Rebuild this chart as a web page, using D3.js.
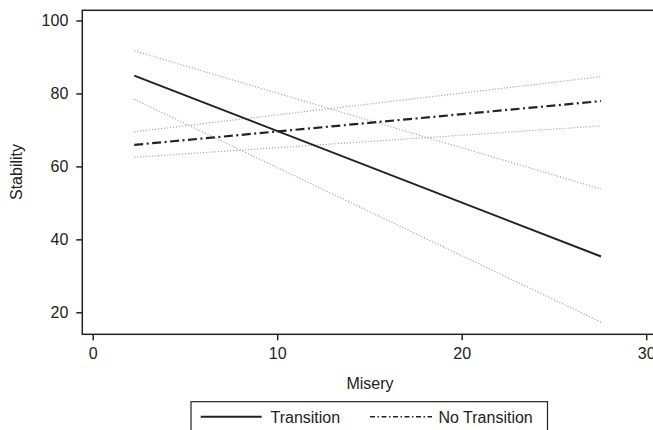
<!DOCTYPE html>
<html>
<head>
<meta charset="utf-8">
<script src="https://cdn.jsdelivr.net/npm/d3@7"></script>
<style>
body { margin: 0; background: #fff; }
svg text { font-family: "Liberation Sans", Arial, sans-serif; fill: #222; }
</style>
</head>
<body>
<div id="chart"></div>
<script>
// misery range covered by the fitted lines
var misery = [2.25, 27.55];
// predicted stability, transition countries (with CI)
var transition = [84.9, 35.3];
var transitionUpper = [91.7, 53.8];
var transitionLower = [78.4, 17.3];
// predicted stability, no transition (with CI)
var noTransition = [65.9, 77.9];
var noTransitionUpper = [69.5, 84.6];
var noTransitionLower = [62.5, 71.1];

var xTicks = [0, 10, 20, 30];
var yTicks = [20, 40, 60, 80, 100];

var W = 653, H = 430;
var FRAME = {left: 82.3, top: 10.3, right: 662, bottom: 334.3};

var svg = d3.select("#chart").append("svg")
.attr("width", W)
.attr("height", H)

var x = d3.scaleLinear().domain([0, 30]).range([92.7, 646.2]);
var y = d3.scaleLinear().domain([20, 100]).range([312.3, 20.5]);

// frame
svg.append("rect")
.attr("x", FRAME.left)
.attr("y", FRAME.top)
.attr("width", FRAME.right - FRAME.left)
.attr("height", FRAME.bottom - FRAME.top)
.style("fill", "none")
.style("stroke", "#222")
.style("stroke-width", 1.5)

// axes
var yAxis = d3.axisLeft(y).tickValues(yTicks).tickSize(6).tickPadding(8);
svg.append("g")
.attr("transform", "translate(" + FRAME.left + ",0)")
.call(yAxis)
.call(g => g.select(".domain").remove())
.call(g => g.selectAll("line").style("stroke", "#222").style("stroke-width", 1.5))
.call(g => g.selectAll("text").style("font-size", "16px").style("fill", "#222").attr("font-family", null))

var xAxis = d3.axisBottom(x).tickValues(xTicks).tickSize(6).tickPadding(7);
svg.append("g")
.attr("transform", "translate(0," + FRAME.bottom + ")")
.call(xAxis)
.call(g => g.select(".domain").remove())
.call(g => g.selectAll("line").style("stroke", "#222").style("stroke-width", 1.5))
.call(g => g.selectAll("text").style("font-size", "16px").style("fill", "#222").attr("font-family", null))

svg.append("text")
.text("Misery")
.attr("x", 370)
.attr("y", 389)
.style("font-size", "16px")
.style("text-anchor", "middle")

svg.append("text")
.text("Stability")
.attr("transform", "translate(22,172) rotate(-90)")
.style("font-size", "16px")
.style("text-anchor", "middle")

// fitted lines
var series = [
    {vals: transitionUpper, stroke: "#aaa", width: 1.2, dash: "1.2,1.8"},
    {vals: transitionLower, stroke: "#aaa", width: 1.2, dash: "1.2,1.8"},
    {vals: noTransitionUpper, stroke: "#aaa", width: 1.2, dash: "1.2,1.8"},
    {vals: noTransitionLower, stroke: "#aaa", width: 1.2, dash: "1.2,1.8"},
    {vals: noTransition, stroke: "#222", width: 2.2, dash: "9,3.5,2,3.5"},
    {vals: transition, stroke: "#222", width: 2, dash: null}
];

var line = d3.line().x((d, i) => x(misery[i])).y(d => y(d));

svg.append("g").selectAll("path")
.data(series).enter()
.append("path")
.attr("d", d => line(d.vals))
.style("fill", "none")
.style("stroke", d => d.stroke)
.style("stroke-width", d => d.width)
.style("stroke-dasharray", d => d.dash)

// legend
var legend = svg.append("g")
legend.append("rect")
.attr("x", 191)
.attr("y", 401.7)
.attr("width", 356.5)
.attr("height", 40)
.style("fill", "#fff")
.style("stroke", "#222")
.style("stroke-width", 1.2)

var legendItems = [
    {label: "Transition", x1: 200.7, x2: 261.7, tx: 270.5, dash: null, width: 2},
    {label: "No Transition", x1: 370, x2: 432, tx: 438.5, dash: "5,2.5,1.5,2.5", width: 1.5}
];
legendItems.forEach(function (item) {
    legend.append("line")
    .attr("x1", item.x1).attr("x2", item.x2)
    .attr("y1", 416.7).attr("y2", 416.7)
    .style("stroke", "#222")
    .style("stroke-width", item.width)
    .style("stroke-dasharray", item.dash)
    legend.append("text")
    .text(item.label)
    .attr("x", item.tx)
    .attr("y", 422.5)
    .style("font-size", "16px")
})
</script>
</body>
</html>
